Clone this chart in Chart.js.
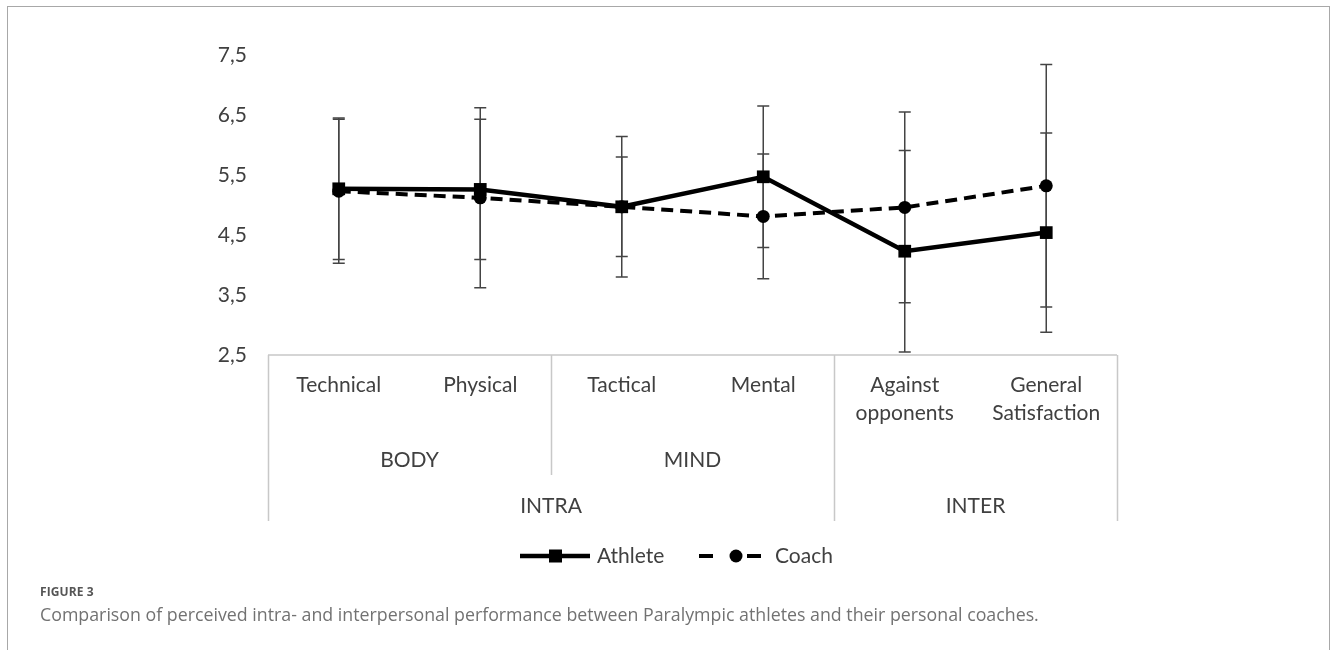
<!DOCTYPE html>
<html>
<head>
<meta charset="utf-8">
<script src="https://cdn.jsdelivr.net/npm/chart.js@4.4.1/dist/chart.umd.min.js"></script>
<style>
	html, body { margin: 0; padding: 0; background: #fff; }
	#wrap { position: relative; width: 1330px; height: 650px; overflow: hidden; }
	#frame { position: absolute; left: 7px; top: 6px; width: 1323px; height: 700px; box-sizing: border-box;
		border: 1px solid #a8a8a8; border-bottom: none; }
	#myChart { position: absolute; left: 0; top: 0; }
	#figNum { position: absolute; left: 40px; top: 583px; font: bold 12px "Open Sans", sans-serif; color: #555; letter-spacing: 0.1px; }
	#caption { position: absolute; left: 40px; top: 602px; font: 17.8px "Open Sans", sans-serif; color: #727272; white-space: nowrap; }
</style>
</head>
<body>
<div id="wrap">
	<div id="frame"></div>
	<canvas id="myChart" width="1330" height="650"></canvas>
	<div id="figNum">FIGURE 3</div>
	<div id="caption">Comparison of perceived intra- and interpersonal performance between Paralympic athletes and their personal coaches.</div>
</div>
<script>
// categories (bottom level of the axis)
var categorias = [["Technical"], ["Physical"], ["Tactical"], ["Mental"], ["Against", "opponents"], ["General", "Satisfaction"]];
// middle level groups: label, first index, last index
var grupos = [["BODY", 0, 1], ["MIND", 2, 3]];
// top level groups
var dominios = [["INTRA", 0, 3], ["INTER", 4, 5]];

var atleta   = [5.27, 5.26, 4.97, 5.47, 4.23, 4.54];
var atletaDP = [1.18, 1.17, 0.83, 1.18, 1.68, 1.66];
var treinador   = [5.23, 5.12, 4.97, 4.81, 4.96, 5.32];
var treinadorDP = [1.20, 1.50, 1.17, 1.04, 1.59, 2.02];

var yTicks = [2.5, 3.5, 4.5, 5.5, 6.5, 7.5];

var fonte = 'Lato, "Open Sans", sans-serif';
var corTexto = '#404040';

var myChart;

// error bars behind the lines
const barrasErro = {
	id: 'barrasErro',
	beforeDatasetsDraw(chart) {
		const ctx = chart.ctx;
		const y = chart.scales.y;
		const desvios = [atletaDP, treinadorDP];
		ctx.save();
		ctx.strokeStyle = '#444';
		ctx.lineWidth = 1.5;
		chart.data.datasets.forEach(function(ds, d) {
			const meta = chart.getDatasetMeta(d);
			meta.data.forEach(function(pt, i) {
				const top = y.getPixelForValue(ds.data[i] + desvios[d][i]);
				const bot = y.getPixelForValue(ds.data[i] - desvios[d][i]);
				ctx.beginPath();
				ctx.moveTo(pt.x, top); ctx.lineTo(pt.x, bot);
				ctx.moveTo(pt.x - 6, top); ctx.lineTo(pt.x + 6, top);
				ctx.moveTo(pt.x - 6, bot); ctx.lineTo(pt.x + 6, bot);
				ctx.stroke();
			});
		});
		ctx.restore();
	}
};

// multi level category axis + legend
const eixoX = {
	id: 'eixoX',
	afterDraw(chart) {
		const ctx = chart.ctx;
		const x = chart.scales.x;
		const area = chart.chartArea;
		const base = area.bottom;
		const n = categorias.length;
		function borda(i) {
			if (i <= 0) return area.left;
			if (i >= n) return area.right;
			return (x.getPixelForValue(i - 1) + x.getPixelForValue(i)) / 2;
		}

		ctx.save();
		ctx.strokeStyle = '#c8c8c8';
		ctx.lineWidth = 1.5;
		ctx.beginPath();
		ctx.moveTo(area.left, base); ctx.lineTo(area.right, base);
		dominios.forEach(function(g) {
			var xa = Math.round(borda(g[1])) + 0.5;
			var xb = Math.round(borda(g[2] + 1)) + 0.5;
			ctx.moveTo(xa, base); ctx.lineTo(xa, base + 166);
			ctx.moveTo(xb, base); ctx.lineTo(xb, base + 166);
		});
		grupos.forEach(function(g) {
			var xa = Math.round(borda(g[1])) + 0.5;
			var xb = Math.round(borda(g[2] + 1)) + 0.5;
			ctx.moveTo(xa, base); ctx.lineTo(xa, base + 120);
			ctx.moveTo(xb, base); ctx.lineTo(xb, base + 120);
		});
		ctx.stroke();

		ctx.fillStyle = corTexto;
		ctx.font = '21px ' + fonte;
		ctx.textAlign = 'center';
		ctx.textBaseline = 'middle';
		categorias.forEach(function(lbl, i) {
			var cx = x.getPixelForValue(i);
			lbl.forEach(function(linha, k) {
				ctx.fillText(linha, cx, base + 30 + k * 28);
			});
		});
		grupos.forEach(function(g) {
			ctx.fillText(g[0], (borda(g[1]) + borda(g[2] + 1)) / 2, base + 105);
		});
		dominios.forEach(function(g) {
			ctx.fillText(g[0], (borda(g[1]) + borda(g[2] + 1)) / 2, base + 151);
		});

		// legend
		var ly = 556;
		ctx.strokeStyle = '#000';
		ctx.fillStyle = '#000';
		ctx.lineWidth = 4.5;
		ctx.beginPath();
		ctx.moveTo(520, ly); ctx.lineTo(590, ly);
		ctx.stroke();
		ctx.fillRect(549, ly - 6.5, 13, 13);
		ctx.lineWidth = 4;
		ctx.beginPath();
		ctx.moveTo(699, ly); ctx.lineTo(713, ly);
		ctx.moveTo(747, ly); ctx.lineTo(761, ly);
		ctx.stroke();
		ctx.beginPath();
		ctx.arc(736, ly, 6.5, 0, Math.PI * 2);
		ctx.fill();
		ctx.fillStyle = corTexto;
		ctx.textAlign = 'left';
		ctx.fillText(chart.data.datasets[0].label, 597, ly);
		ctx.fillText(chart.data.datasets[1].label, 775, ly);
		ctx.restore();
	}
};

window.addEventListener('load', function() {
	myChart = new Chart("myChart", {
		type: "line",
		data: {
			labels: categorias,
			datasets: [
				{
					label: 'Athlete',
					data: atleta,
					borderColor: '#000',
					backgroundColor: '#000',
					borderWidth: 4.5,
					pointStyle: 'rect',
					pointRadius: 9,
					pointBorderWidth: 0,
					tension: 0
				},
				{
					label: 'Coach',
					data: treinador,
					borderColor: '#000',
					backgroundColor: '#000',
					borderWidth: 4,
					borderDash: [12, 7],
					pointStyle: 'circle',
					pointRadius: 6.5,
					pointBorderWidth: 0,
					tension: 0
				}
			]
		},
		options: {
			responsive: false,
			animation: false,
			devicePixelRatio: 1,
			layout: { padding: { left: 0, top: 55, right: 213, bottom: 295 } },
			plugins: { legend: { display: false }, tooltip: { enabled: false } },
			scales: {
				x: { type: 'category', offset: true, display: false },
				y: {
					min: 2.5,
					max: 7.5,
					afterFit: function(s) { s.width = 268; },
					afterBuildTicks: function(s) { s.ticks = yTicks.map(function(v) { return { value: v }; }); },
					grid: { display: false, drawTicks: false },
					border: { display: false },
					ticks: {
						padding: 21,
						color: corTexto,
						font: { family: fonte, size: 21 },
						callback: function(v) { return v.toFixed(1).replace('.', ','); }
					}
				}
			}
		},
		plugins: [barrasErro, eixoX]
	});
});
</script>
</body>
</html>
